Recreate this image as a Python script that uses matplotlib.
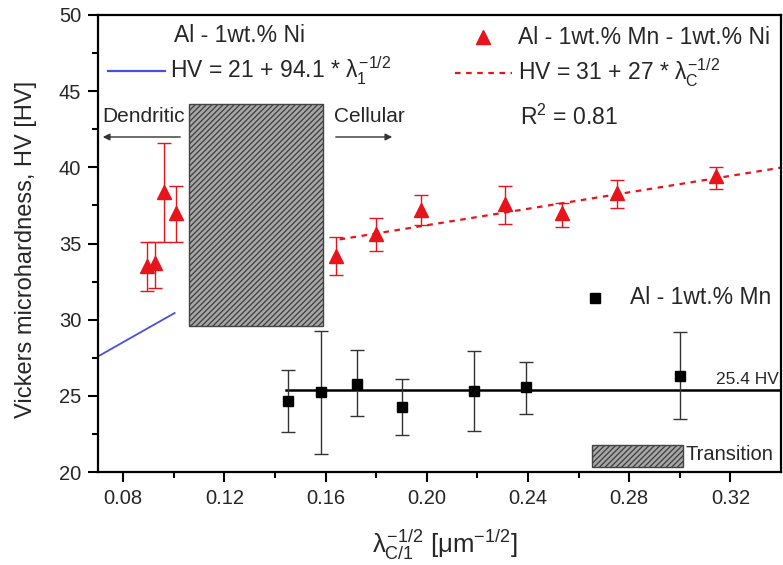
import matplotlib
matplotlib.use("Agg")
import matplotlib.pyplot as plt
import numpy as np
from matplotlib.patches import Rectangle

plt.rcParams['font.family'] = ['Liberation Sans', 'DejaVu Sans']
plt.rcParams['mathtext.fontset'] = 'custom'
plt.rcParams['mathtext.rm'] = 'Liberation Sans'
plt.rcParams['mathtext.it'] = 'Liberation Sans'
plt.rcParams['mathtext.sf'] = 'Liberation Sans'
plt.rcParams['hatch.linewidth'] = 1.0

# Al - 1wt.% Mn - 1wt.% Ni (red triangles)
mnni_x = [0.0894, 0.0925, 0.0960, 0.1007, 0.1640, 0.1800, 0.1975, 0.2310, 0.2533, 0.2750, 0.3144]
mnni_y = [33.5, 33.7, 38.4, 37.0, 34.2, 35.6, 37.2, 37.6, 37.0, 38.3, 39.4]
mnni_top = [35.1, 35.1, 41.6, 38.8, 35.45, 36.65, 38.2, 38.8, 37.65, 39.2, 40.0]
mnni_bot = [31.9, 32.1, 35.1, 35.1, 32.9, 34.5, 36.2, 36.3, 36.1, 37.3, 38.6]

# Al - 1wt.% Mn (black squares)
mn_x = [0.1450, 0.1580, 0.1722, 0.1903, 0.2185, 0.2392, 0.3000]
mn_y = [24.67, 25.27, 25.8, 24.24, 25.33, 25.55, 26.3]
mn_top = [26.7, 29.27, 28.0, 26.1, 27.96, 27.24, 29.2]
mn_bot = [22.6, 21.2, 23.67, 22.4, 22.7, 23.78, 23.45]

# Fits
ni_fit = (21.0, 94.1)          # Al-1wt.%Ni: HV = 21 + 94.1*x
ni_range = (0.07, 0.1003)
c_fit = (30.8, 27.0)           # cellular fit line as drawn
c_range = (0.1655, 0.34)
mn_mean = 25.4
mn_range = (0.1445, 0.34)

# Transition region
trans_x = (0.106, 0.1588)
trans_y = (29.6, 44.15)

xticks = [0.08, 0.12, 0.16, 0.20, 0.24, 0.28, 0.32]
yticks = [20, 25, 30, 35, 40, 45, 50]

fig = plt.figure(figsize=(7.83, 5.65), dpi=100)
W, H = 783, 565
ax = fig.add_axes([98 / W, 1 - 472 / H, (781 - 98) / W, (472 - 15) / H])
ax.set_xlim(0.07, 0.34)
ax.set_ylim(20, 50)

txtc = '#262626'
red = '#e8141b'

# transition hatched rect
ax.add_patch(Rectangle((trans_x[0], trans_y[0]), trans_x[1] - trans_x[0], trans_y[1] - trans_y[0],
                       facecolor='#a8a8a8', edgecolor='#444444', hatch='//////', lw=1.0, zorder=1))

# blue fit
xb = np.array(ni_range)
ax.plot(xb, ni_fit[0] + ni_fit[1] * xb, color='#4a4ee0', lw=1.3, zorder=2)

# red dashed fit
xr = np.array(c_range)
ax.plot(xr, c_fit[0] + c_fit[1] * xr, color=red, lw=1.6, ls=(0, (2.5, 2.5)), zorder=2)

# black mean line
ax.plot(mn_range, [mn_mean, mn_mean], color='black', lw=1.8, zorder=2)

# error bars
mnni_y_a = np.array(mnni_y)
ax.errorbar(mnni_x, mnni_y, yerr=[mnni_y_a - np.array(mnni_bot), np.array(mnni_top) - mnni_y_a],
            fmt='^', color=red, ms=10.5, ecolor=red, elinewidth=1.0, capsize=5, capthick=1.0, zorder=4)
mn_y_a = np.array(mn_y)
ax.errorbar(mn_x, mn_y, yerr=[mn_y_a - np.array(mn_bot), np.array(mn_top) - mn_y_a],
            fmt='s', color='black', ms=7.5, ecolor='#333333', elinewidth=1.0, capsize=5, capthick=1.0, zorder=4)

# axis styling
for s in ax.spines.values():
    s.set_linewidth(1.6)
ax.set_xticks(xticks)
ax.set_xticklabels([f'{t:.2f}' for t in xticks])
ax.set_yticks(yticks)
ax.set_xticks(np.arange(0.08, 0.34, 0.02), minor=True)
ax.set_yticks(np.arange(20, 50.1, 2.5), minor=True)
ax.tick_params(which='major', direction='out', length=7, width=1.5, labelsize=14.5,
               labelcolor=txtc, pad=5, top=False, right=False)
ax.tick_params(which='minor', direction='out', length=4, width=1.5, top=False, right=False)

def px(xp, yp):
    return (xp / W, 1 - yp / H)

fig.text(*px(445, 545), r'$\lambda_{C/1}^{-1/2}$ [$\mu$m$^{-1/2}$]', fontsize=18.5, color=txtc,
         ha='center', va='center')
fig.text(*px(26, 249), 'Vickers microhardness, HV [HV]', fontsize=17, color=txtc,
         ha='center', va='center', rotation=90)

fs = 16.5
# top-left legend
fig.text(*px(240, 35), 'Al - 1wt.% Ni', fontsize=fs, color=txtc, ha='center', va='center')
fig.add_artist(plt.Line2D([108 / W, 165 / W], [1 - 71 / H, 1 - 71 / H], color='#4a4ee0', lw=1.6))
fig.text(*px(170, 71), r'HV = 21 + 94.1 * $\lambda_{1}^{-1/2}$', fontsize=fs, color=txtc, ha='left', va='center')

# top-right legend
fig.add_artist(plt.Line2D([483 / W], [1 - 37 / H], marker='^', color=red, ms=10.5, ls='none'))
fig.text(*px(518, 37), 'Al - 1wt.% Mn - 1wt.% Ni', fontsize=fs, color=txtc, ha='left', va='center')
fig.add_artist(plt.Line2D([455 / W, 512 / W], [1 - 73 / H, 1 - 73 / H], color=red, lw=1.6, ls=(0, (2.5, 2.5))))
fig.text(*px(518, 73), r'HV = 31 + 27 * $\lambda_{C}^{-1/2}$', fontsize=fs, color=txtc, ha='left', va='center')
fig.text(*px(520, 117), r'R$^{2}$ = 0.81', fontsize=fs, color=txtc, ha='left', va='center')

# Mn legend
fig.add_artist(plt.Line2D([595 / W], [1 - 298 / H], marker='s', color='black', ms=7.5, ls='none'))
fig.text(*px(630, 298), 'Al - 1wt.% Mn', fontsize=fs, color=txtc, ha='left', va='center')

# 25.4 HV label
fig.text(*px(716, 380), '25.4 HV', fontsize=12.5, color=txtc, ha='left', va='center')

# Dendritic / Cellular
fig.text(*px(143, 117), 'Dendritic', fontsize=15, color=txtc, ha='center', va='center')
ax.annotate('', xy=(100 / W, 1 - 137 / H), xytext=(183 / W, 1 - 137 / H), xycoords='figure fraction',
            arrowprops=dict(arrowstyle='-|>', color='#333333', lw=1.0, mutation_scale=10))
fig.text(*px(369, 117), 'Cellular', fontsize=15, color=txtc, ha='center', va='center')
ax.annotate('', xy=(395 / W, 1 - 137 / H), xytext=(333 / W, 1 - 137 / H), xycoords='figure fraction',
            arrowprops=dict(arrowstyle='-|>', color='#333333', lw=1.0, mutation_scale=10))

# Transition legend
fig.add_artist(Rectangle((592 / W, 1 - 467 / H), 91 / W, 22 / H, transform=fig.transFigure,
                         facecolor='#a8a8a8', edgecolor='#444444', hatch='//////', lw=1.0))
fig.text(*px(686, 455), 'Transition', fontsize=14.5, color=txtc, ha='left', va='center')

fig.savefig('out.png', dpi=100)
